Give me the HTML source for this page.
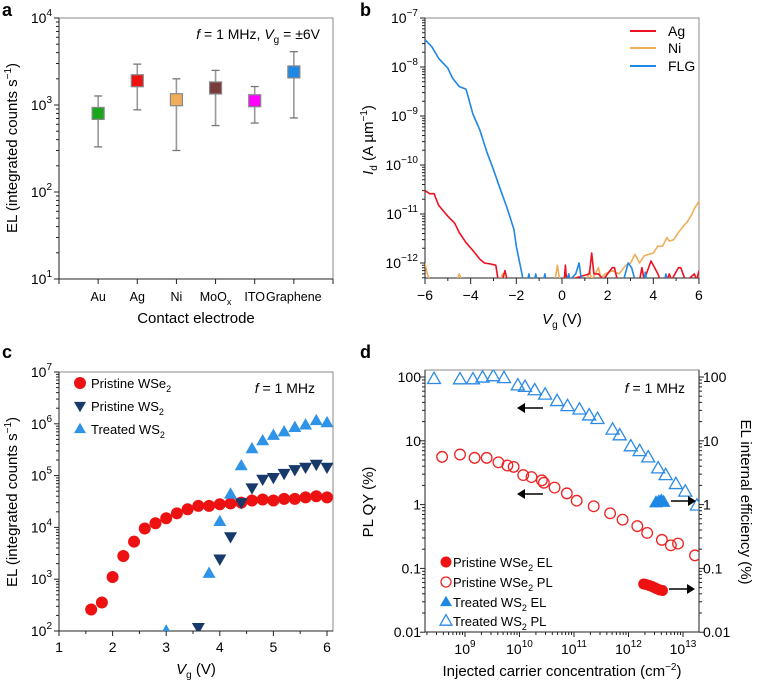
<!DOCTYPE html>
<html><head><meta charset="utf-8">
<style>
html,body{margin:0;padding:0;background:#fff;}
svg{display:block;font-family:"Liberation Sans",Arial,sans-serif;}
</style></head>
<body>
<svg id="fig" width="757" height="682" viewBox="0 0 757 682" xmlns="http://www.w3.org/2000/svg">
<defs>
<clipPath id="clipB"><rect x="425" y="18" width="274" height="260"/></clipPath>
<clipPath id="clipC"><rect x="59" y="372" width="274" height="259"/></clipPath>
<clipPath id="clipD"><rect x="425" y="370" width="274" height="262"/></clipPath>
</defs>
<text x="2" y="16" font-size="18" font-weight="bold">a</text>
<text x="360" y="16" font-size="18" font-weight="bold">b</text>
<text x="2" y="358" font-size="18" font-weight="bold">c</text>
<text x="360" y="358" font-size="18" font-weight="bold">d</text>
</svg>
<script>
// ---- Panel a data
const catA = ['Au','Ag','Ni','MoOx','ITO','Graphene'];
const elA = [800,1900,1150,1570,1120,2400];
const elHiA = [1270,2950,2000,2500,1630,4100];
const elLoA = [330,880,300,580,620,710];
const colA = ['#1aa61a','#ee1111','#f0ad5a','#7a3b3b','#ff00ff','#1e88e5'];
// ---- Panel b data
const flgV = [-6,-5.7,-5.4,-5,-4.8,-4.5,-4.2,-3.9,-3.6,-3.3,-3,-2.7,-2.4,-2.1,-2,-1.7,-1.5,-1.45,-1.4,-1.2,-1.15,-1.1,-0.8,-0.75,-0.7,0.2,0.3,0.35,0.6,0.75,0.85,1.0,2.7,2.9,3.05,3.2,3.6,3.65,3.7,4.5,4.55,4.6];
const flgI = [3.6e-8,2.6e-8,1.5e-8,9.5e-9,6e-9,4e-9,3.5e-9,1.1e-9,5.2e-10,1.9e-10,8e-11,3.2e-11,1.3e-11,4.8e-12,2.2e-12,4.5e-13,4.5e-13,6e-13,4.5e-13,4.5e-13,6e-13,4.5e-13,4.5e-13,6e-13,4.5e-13,4.5e-13,6e-13,4.5e-13,6e-13,1e-12,4.5e-13,4.5e-13,4.5e-13,1e-12,8e-13,4.5e-13,4.5e-13,6.5e-13,4.5e-13,4.5e-13,6e-13,4.5e-13];
const agV = [-6,-5.8,-5.6,-5.4,-5,-4.7,-4.5,-4.2,-3.9,-3.6,-3.4,-3.1,-2.9,-2.8,-2.6,-2.5,-2.4,0.1,0.15,0.2,0.3,1.2,1.3,1.4,1.6,1.8,2.0,2.2,2.3,2.4,2.5,3.4,3.5,3.6,3.9,4.0,4.2,4.3,4.6,4.7,4.8,5.1,5.2,5.4,5.5,5.8,5.9,6];
const agI = [3e-11,2.6e-11,2.6e-11,1.5e-11,9e-12,6.5e-12,4.2e-12,2.6e-12,1.8e-12,1.2e-12,1e-12,9.5e-13,9e-13,4.5e-13,4.5e-13,7e-13,4.5e-13,4.5e-13,9e-13,4.5e-13,4.5e-13,6e-13,1.6e-12,6e-13,6e-13,4.5e-13,6e-13,8e-13,8e-13,5e-13,4.5e-13,4.5e-13,8e-13,4.5e-13,1.1e-12,9e-13,6e-13,4.5e-13,4.5e-13,6e-13,4.5e-13,8e-13,8e-13,4.5e-13,4.5e-13,6e-13,4.5e-13,7e-13];
const niV = [-6,-5.9,-5.8,-5.7,-4.6,-4.5,-4.4,-2.7,-2.6,-2.5,-0.3,-0.2,-0.1,1.1,1.2,1.3,1.6,1.7,1.9,2.2,2.5,2.8,3.0,3.2,3.4,3.6,3.8,4.0,4.2,4.4,4.6,4.7,4.9,5.1,5.3,5.5,5.7,5.8,6];
const niI = [1e-12,6e-13,4.5e-13,4.5e-13,4.5e-13,6e-13,4.5e-13,4.5e-13,6e-13,4.5e-13,4.5e-13,9e-13,4.5e-13,4.5e-13,7e-13,4.5e-13,8e-13,5e-13,6e-13,7e-13,6e-13,9e-13,1e-12,1.5e-12,1e-12,1.4e-12,1.5e-12,1.6e-12,2.2e-12,2.2e-12,3.3e-12,2.8e-12,3e-12,4.2e-12,5.5e-12,7e-12,1e-11,1.3e-11,1.8e-11];
// ---- Panel c data
const wseV = [1.6,1.8,2.0,2.2,2.4,2.6,2.8,3.0,3.2,3.4,3.6,3.8,4.0,4.2,4.4,4.6,4.8,5.0,5.2,5.4,5.6,5.8,6.0];
const wseEL = [260,355,1100,2800,5300,9500,12000,15000,18700,22400,26000,26000,28000,29000,30000,33000,34500,33000,35500,35500,38000,40000,38000];
const ws2V = [3.6,4.0,4.2,4.4,4.6,4.8,5.0,5.2,5.4,5.6,5.8,6.0];
const ws2EL = [117,2450,6600,30000,58000,85000,92000,110000,130000,145000,165000,145000];
const tws2V = [3.0,3.8,4.0,4.2,4.4,4.6,4.8,5.0,5.2,5.4,5.6,5.8,6.0];
const tws2EL = [100,1300,13000,44000,155000,330000,470000,600000,700000,850000,950000,1150000,1050000];
// ---- Panel d data
const tplN = [2.7e8,8.1e8,1.4e9,2.1e9,3.3e9,5.2e9,9.3e9,1.26e10,1.9e10,2.95e10,4.9e10,7.6e10,1.26e11,1.9e11,2.7e11,5.1e11,6.9e11,1.1e12,1.6e12,2.3e12,3.5e12,4.8e12,7.4e12,1.1e13,1.8e13];
const tplQY = [93,92,92,98,103,96,74,70,62,53,42,35,31,25,22,15,12.2,8.2,6.9,5.5,3.7,2.9,2.1,1.6,0.97];
const wplN = [3.8e8,8.1e8,1.5e9,2.5e9,4.1e9,6e9,7.8e9,1.17e10,1.66e10,2.57e10,2.8e10,4.4e10,7.4e10,1.12e11,2.3e11,4.6e11,7.8e11,1.45e12,2.2e12,4.1e12,6e12,8.1e12,1.66e13];
const wplQY = [5.6,6.1,5.4,5.4,4.6,4.1,3.9,2.9,2.7,2.4,2.2,1.85,1.5,1.15,0.94,0.73,0.58,0.46,0.36,0.28,0.23,0.245,0.16];
const welN = [1.9e12,2.1e12,2.4e12,2.7e12,3.0e12,3.3e12,3.7e12,4.2e12];
const welEff = [0.057,0.056,0.054,0.052,0.05,0.048,0.046,0.045];
const telN = [3.2e12,3.6e12,4.0e12,4.4e12];
const telEff = [1.08,1.12,1.15,1.1];

const NS='http://www.w3.org/2000/svg';
const svg=document.getElementById('fig');
function mk(tag,attrs,parent){const e=document.createElementNS(NS,tag);for(const k in attrs)e.setAttribute(k,attrs[k]);(parent||svg).appendChild(e);return e;}
const L10=Math.log10;
const xA=i=>59+(i+1)*39.14, yA=v=>279-(L10(v)-1)*87;
const xB=v=>425+(v+6)*22.83, yB=v=>18+(-7-L10(v))*49;
const xC=v=>59+(v-1)*53.6, yC=v=>372+(7-L10(v))*51.8;
const xD=n=>465+(L10(n)-9)*54.5, yD=v=>377+(2-L10(v))*63.8;

function txt(x,y,s,size,anchor,name){const t=mk('text',{x:x,y:y,'font-size':size,'text-anchor':anchor||'middle'});t.textContent=s;return t;}
function pow(x,y,base,exp,anchor,name){const t=mk('text',{x:x,y:y,'font-size':14,'text-anchor':anchor});const a=mk('tspan',{},t);a.textContent=base;const b=mk('tspan',{dy:-7,'font-size':10},t);b.textContent=exp;return t;}
function line(x1,y1,x2,y2,c,w,name){const l=mk('line',{x1:x1,y1:y1,x2:x2,y2:y2,stroke:c,'stroke-width':w||1});return l;}
function frame(x0,y0,x1,y1,name){const r=mk('rect',{x:x0,y:y0,width:x1-x0,height:y1-y0,fill:'none',stroke:'#888','stroke-width':1});line(x0,y0,x0,y1,'#222',1,name+'-left-axis');line(x0,y1,x1,y1,'#222',1,name+'-bottom-axis');}
function logTicksY(x,ysc,d0,d1,dir){for(let d=d0;d<=d1;d++){line(x,ysc(Math.pow(10,d)),x-5*dir,ysc(Math.pow(10,d)),'#222',1,'y-major-tick');if(d<d1)for(let k=2;k<10;k++){line(x,ysc(k*Math.pow(10,d)),x-3*dir,ysc(k*Math.pow(10,d)),'#222',1,'y-minor-tick');}}}
function path(xs,ys,xf,yf,c,clip,name){let d='';xs.forEach((v,i)=>{d+=(i?'L':'M')+xf(v).toFixed(1)+','+yf(ys[i]).toFixed(1);});const p=mk('path',{d:d,fill:'none',stroke:c,'stroke-width':1.6,'stroke-linejoin':'round','clip-path':'url(#'+clip+')'});return p;}
function tri(cx,cy,s,up,fill,stroke,clip,name){const h=s*0.87;const pts=up?[[cx,cy-h*0.6],[cx-s/2,cy+h*0.4],[cx+s/2,cy+h*0.4]]:[[cx,cy+h*0.6],[cx-s/2,cy-h*0.4],[cx+s/2,cy-h*0.4]];const p=mk('polygon',{points:pts.map(q=>q.join(',')).join(' '),fill:fill,stroke:stroke||'none','stroke-width':1.3});if(clip)p.setAttribute('clip-path','url(#'+clip+')');return p;}
function circ(cx,cy,r,fill,stroke,clip,name){const c=mk('circle',{cx:cx,cy:cy,r:r,fill:fill,stroke:stroke||'none','stroke-width':1.3});if(clip)c.setAttribute('clip-path','url(#'+clip+')');return c;}
function arrow(x1,x2,y,name){line(x1,y,x2+(x2>x1?-6:6),y,'#000',1.5,name);const d=x2>x1?1:-1;const p=mk('polygon',{points:`${x2},${y} ${x2-8*d},${y-5} ${x2-8*d},${y+5}`,fill:'#000'});}

// ===== Panel a
frame(59,18,333,279,'panel-a-frame');
logTicksY(59,yA,1,4,1);
[1,2,3,4].forEach(d=>pow(52,yA(Math.pow(10,d))+5,'10',String(d),'end','a-y-tick-label'));
line(59,279,59,284,'#222',1,'a-x-tick');line(333,279,333,284,'#222',1,'a-x-tick');
catA.forEach((c,i)=>{
  const x=xA(i);
  line(x,279,x,284,'#222',1,'a-x-tick');
  if(c==='MoOx'){const t=mk('text',{x:x,y:301,'font-size':12.5,'text-anchor':'middle'});const a=mk('tspan',{},t);a.textContent='MoO';const b=mk('tspan',{dy:4,'font-size':9},t);b.textContent='x';}
  else txt(x,301,c,12.5,'middle','a-category-label');
  line(x,yA(elHiA[i]),x,yA(elLoA[i]),'#999',1.6,'error-bar-'+c.toLowerCase());
  line(x-4,yA(elHiA[i]),x+4,yA(elHiA[i]),'#777',1.3,'error-cap');
  line(x-4,yA(elLoA[i]),x+4,yA(elLoA[i]),'#777',1.3,'error-cap');
  const r=mk('rect',{x:x-6,y:yA(elA[i])-6,width:12,height:12,fill:colA[i],stroke:'#888','stroke-width':1.2});
  
  
});
txt(196,323,'Contact electrode',15,'middle','a-x-axis-title');
(function(){const t=mk('text',{x:0,y:0,'font-size':15,'text-anchor':'middle',transform:'translate(17,148) rotate(-90)'});const a=mk('tspan',{},t);a.textContent='EL (integrated counts s';const b=mk('tspan',{dy:-6,'font-size':10},t);b.textContent='−1';const c=mk('tspan',{dy:6},t);c.textContent=')';})();
(function(){const t=mk('text',{x:320,y:39,'font-size':14,'text-anchor':'end'});const p=[['f','italic',0],[' = 1 MHz, ','normal',0],['V','italic',0],['g','normal',4],[' = ±6V','normal',-4]];p.forEach(q=>{const s=mk('tspan',{'font-style':q[1],dy:q[2]},t);if(q[0]==='g')s.setAttribute('font-size',10);s.textContent=q[0];});})();

// ===== Panel b
frame(425,18,699,278,'panel-b-frame');
for(let d=-12;d<=-7;d++){line(425,yB(Math.pow(10,d)),420,yB(Math.pow(10,d)),'#222',1,'b-y-major-tick');pow(418,yB(Math.pow(10,d))+5,'10','−'+(-d),'end','b-y-tick-label');}
for(let d=-13;d<-7;d++)for(let k=2;k<10;k++){const v=k*Math.pow(10,d);if(yB(v)<=278)line(425,yB(v),422,yB(v),'#222',1,'b-y-minor-tick');}
for(let v=-6;v<=6;v++){line(xB(v),278,xB(v),v%2?281:284,'#222',1,'b-x-tick');if(v%2===0)txt(xB(v),300,(v<0?'−':'')+Math.abs(v),14,'middle','b-x-tick-label');}
path(niV,niI,xB,yB,'#f0ad5a','clipB','ni-line');
path(agV,agI,xB,yB,'#ee1122','clipB','ag-line');
path(flgV,flgI,xB,yB,'#1e88e5','clipB','flg-line');
[['Ag','#ee1122',31],['Ni','#f0ad5a',48],['FLG','#1e88e5',66]].forEach(q=>{line(630,q[2],656,q[2],q[1],2,'legend-line-'+q[0].toLowerCase());txt(668,q[2]+5,q[0],14,'start','legend-label-'+q[0].toLowerCase());});
(function(){const t=mk('text',{x:562,y:324,'font-size':15,'text-anchor':'middle'});const a=mk('tspan',{'font-style':'italic'},t);a.textContent='V';const b=mk('tspan',{dy:4,'font-size':10},t);b.textContent='g';const c=mk('tspan',{dy:-4},t);c.textContent=' (V)';})();
(function(){const t=mk('text',{x:0,y:0,'font-size':15,'text-anchor':'middle',transform:'translate(373,140) rotate(-90)'});const a=mk('tspan',{'font-style':'italic'},t);a.textContent='I';const b=mk('tspan',{dy:4,'font-size':10},t);b.textContent='d';const c=mk('tspan',{dy:-4},t);c.textContent=' (A µm';const d=mk('tspan',{dy:-6,'font-size':10},t);d.textContent='−1';const e=mk('tspan',{dy:6},t);e.textContent=')';})();

// ===== Panel c
frame(59,372,333,631,'panel-c-frame');
logTicksY(59,yC,2,7,1);
[2,3,4,5,6,7].forEach(d=>pow(52,yC(Math.pow(10,d))+5,'10',String(d),'end','c-y-tick-label'));
for(let v=1;v<=6;v+=0.5){line(xC(v),631,xC(v),v%1?634:636,'#222',1,'c-x-tick');if(v%1===0)txt(xC(v),652,String(v),14,'middle','c-x-tick-label');}
wseV.forEach((v,i)=>circ(xC(v),yC(wseEL[i]),6,'#ee1111',null,'clipC','pristine-wse2-point'));
ws2V.forEach((v,i)=>tri(xC(v),yC(ws2EL[i]),13,false,'#173a6a',null,'clipC','pristine-ws2-point'));
tws2V.forEach((v,i)=>tri(xC(v),yC(tws2EL[i]),13,true,'#2f93e8',null,'clipC','treated-ws2-point'));
circ(80,383,6,'#ee1111',null,null,'legend-marker-wse2');
tri(80,406,12,false,'#173a6a',null,null,'legend-marker-ws2');
tri(80,429,12,true,'#2f93e8',null,null,'legend-marker-treated-ws2');
function legTxt(x,y,a,sub,tail,name){const t=mk('text',{x:x,y:y,'font-size':13,'text-anchor':'start'});const p=mk('tspan',{},t);p.textContent=a;const s=mk('tspan',{dy:4,'font-size':9},t);s.textContent=sub;if(tail){const q=mk('tspan',{dy:-4},t);q.textContent=tail;}}
legTxt(91,388,'Pristine WSe','2','','legend-label-wse2');
legTxt(91,411,'Pristine WS','2','','legend-label-ws2');
legTxt(91,434,'Treated WS','2','','legend-label-treated-ws2');
(function(){const t=mk('text',{x:315,y:393,'font-size':14,'text-anchor':'end'});const a=mk('tspan',{'font-style':'italic'},t);a.textContent='f';const b=mk('tspan',{},t);b.textContent=' = 1 MHz';})();
(function(){const t=mk('text',{x:196,y:674,'font-size':15,'text-anchor':'middle'});const a=mk('tspan',{'font-style':'italic'},t);a.textContent='V';const b=mk('tspan',{dy:4,'font-size':10},t);b.textContent='g';const c=mk('tspan',{dy:-4},t);c.textContent=' (V)';})();
(function(){const t=mk('text',{x:0,y:0,'font-size':15,'text-anchor':'middle',transform:'translate(17,502) rotate(-90)'});const a=mk('tspan',{},t);a.textContent='EL (integrated counts s';const b=mk('tspan',{dy:-6,'font-size':10},t);b.textContent='−1';const c=mk('tspan',{dy:6},t);c.textContent=')';})();

// ===== Panel d
frame(425,370,699,632,'panel-d-frame');
line(699,370,699,632,'#222',1,'d-right-axis');
logTicksY(425,yD,-2,2,1);
logTicksY(699,yD,-2,2,-1);
const dLab=['0.01','0.1','1','10','100'];
[-2,-1,0,1,2].forEach((d,i)=>{txt(421,yD(Math.pow(10,d))+5,dLab[i],14,'end','d-left-tick-label');txt(703,yD(Math.pow(10,d))+5,dLab[i],14,'start','d-right-tick-label');});
for(let d=8;d<=13;d++){for(let k=1;k<10;k++){const x=xD(k*Math.pow(10,d));if(x>=425&&x<=699)line(x,632,x,k===1?637:635,'#222',1,'d-x-tick');}if(d>=9)pow(xD(Math.pow(10,d)),654,'10',String(d),'middle','d-x-tick-label');}
tplN.forEach((n,i)=>tri(xD(n),yD(tplQY[i]),13,true,'none','#2b8ae6','clipD','treated-ws2-pl-point'));
wplN.forEach((n,i)=>circ(xD(n),yD(wplQY[i]),5.3,'none','#ee2222','clipD','pristine-wse2-pl-point'));
welN.forEach((n,i)=>circ(xD(n),yD(welEff[i]),5.5,'#ee1111',null,'clipD','pristine-wse2-el-point'));
telN.forEach((n,i)=>tri(xD(n),yD(telEff[i]),14,true,'#1e88e5',null,'clipD','treated-ws2-el-point'));
arrow(543,517,408,'arrow-left-ws2');
arrow(543,517,494,'arrow-left-wse2');
arrow(671,696,501,'arrow-right-ws2');
arrow(669,695,589,'arrow-right-wse2');
circ(446,562,5.5,'#ee1111',null,null,'legend-marker-wse2-el');
circ(446,582,5,'none','#ee2222',null,'legend-marker-wse2-pl');
tri(446,602,12,true,'#1e88e5',null,null,'legend-marker-ws2-el');
tri(446,621,12,true,'none','#2b8ae6',null,'legend-marker-ws2-pl');
legTxt(453,567,'Pristine WSe','2',' EL','legend-label-wse2-el');
legTxt(453,587,'Pristine WSe','2',' PL','legend-label-wse2-pl');
legTxt(453,607,'Treated WS','2',' EL','legend-label-ws2-el');
legTxt(453,626,'Treated WS','2',' PL','legend-label-ws2-pl');
(function(){const t=mk('text',{x:685,y:393,'font-size':14,'text-anchor':'end'});const a=mk('tspan',{'font-style':'italic'},t);a.textContent='f';const b=mk('tspan',{},t);b.textContent=' = 1 MHz';})();
(function(){const t=mk('text',{x:562,y:676,'font-size':15,'text-anchor':'middle'});const a=mk('tspan',{},t);a.textContent='Injected carrier concentration (cm';const b=mk('tspan',{dy:-6,'font-size':10},t);b.textContent='−2';const c=mk('tspan',{dy:6},t);c.textContent=')';})();
txt(0,0,'PL QY (%)',15,'middle','d-left-axis-title').setAttribute('transform','translate(373,502) rotate(-90)');
txt(0,0,'EL internal efficiency (%)',15,'middle','d-right-axis-title').setAttribute('transform','translate(741,502) rotate(90)');
</script>
</body></html>
